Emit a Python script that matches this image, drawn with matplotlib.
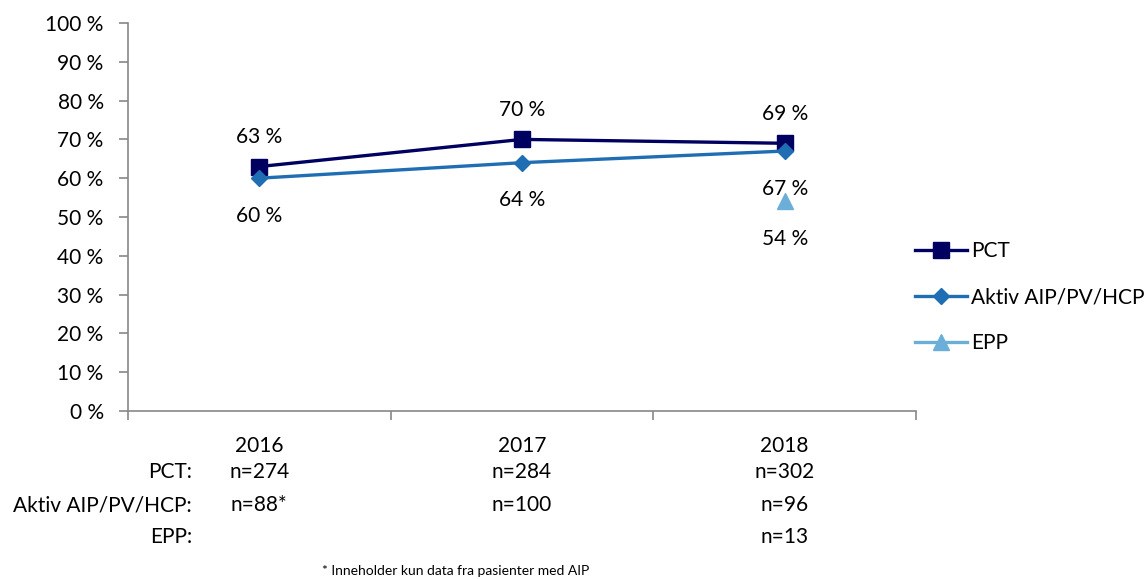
import matplotlib.pyplot as plt
import numpy as np

plt.rcParams['font.family'] = ['Lato', 'DejaVu Sans']

# andel per år og gruppe (%)
years = ['2016', '2017', '2018']
pct = [63, 70, 69]
aktiv = [60, 64, 67]
epp = [np.nan, np.nan, 54]

series_names = ['PCT', 'Aktiv AIP/PV/HCP', 'EPP']
row_labels = ['PCT:', 'Aktiv AIP/PV/HCP:', 'EPP:']
n_pct = ['n=274', 'n=284', 'n=302']
n_aktiv = ['n=88*', 'n=100', 'n=96']
n_epp = ['', '', 'n=13']
footnote = '* Inneholder kun data fra pasienter med AIP'

c_pct = '#000060'
c_aktiv = '#1F6EB3'
c_epp = '#6BAED8'
grey = '#888888'
fs = 15

fig = plt.figure(figsize=(11.48, 5.79), dpi=100)
ax = fig.add_axes([128 / 1148, 1 - 411 / 579, (916 - 128) / 1148, (411 - 23) / 579])

x = np.arange(len(years))
ax.plot(x, pct, color=c_pct, lw=2.4, marker='s', ms=11, label=series_names[0])
ax.plot(x, aktiv, color=c_aktiv, lw=2.4, marker='D', ms=8.5, label=series_names[1])
ax.plot(x, epp, color=c_epp, lw=2.4, marker='^', ms=12, label=series_names[2])

# dataetiketter
for i in x:
    ax.annotate(f'{pct[i]:.0f} %', (i, pct[i]), xytext=(0, 21), textcoords='offset points',
                ha='center', va='center', fontsize=fs)
    ax.annotate(f'{aktiv[i]:.0f} %', (i, aktiv[i]), xytext=(0, -27), textcoords='offset points',
                ha='center', va='center', fontsize=fs)
    if not np.isnan(epp[i]):
        ax.annotate(f'{epp[i]:.0f} %', (i, epp[i]), xytext=(0, -27), textcoords='offset points',
                    ha='center', va='center', fontsize=fs)

ax.set_xlim(-0.5, 2.5)
ax.set_ylim(0, 100)
ax.set_yticks(np.arange(0, 101, 10))
ax.set_yticklabels([f'{v} %' for v in range(0, 101, 10)], fontsize=fs)
ax.set_xticks([-0.5, 0.5, 1.5, 2.5])
ax.set_xticklabels([])
ax.tick_params(axis='both', color=grey, length=6.5, width=1.2)
ax.tick_params(axis='y', pad=11)
for side in ['top', 'right']:
    ax.spines[side].set_visible(False)
for side in ['left', 'bottom']:
    ax.spines[side].set_color(grey)
    ax.spines[side].set_linewidth(1.2)

# år og antall under aksen
rows_y = [446, 472, 505, 537]
for i, yr in enumerate(years):
    xf = ax.transData.transform((i, 0))[0] / fig.bbox.width
    for txt, yp in zip([yr, n_pct[i], n_aktiv[i], n_epp[i]], rows_y):
        if txt:
            fig.text(xf, 1 - yp / 579, txt, ha='center', va='center', fontsize=fs)

for lab, yp in zip(row_labels, rows_y[1:]):
    fig.text(192 / 1148, 1 - yp / 579, lab, ha='right', va='center', fontsize=fs)

fig.text(456 / 1148, 1 - 571 / 579, footnote, ha='center', va='center', fontsize=10)

ax.legend(loc='center left', bbox_to_anchor=(896 / 1148, 1 - 297 / 579),
          bbox_transform=fig.transFigure, frameon=False, fontsize=fs,
          handlelength=2.5, handletextpad=0.2, labelspacing=1.25)

fig.savefig('out.png', dpi=100)
